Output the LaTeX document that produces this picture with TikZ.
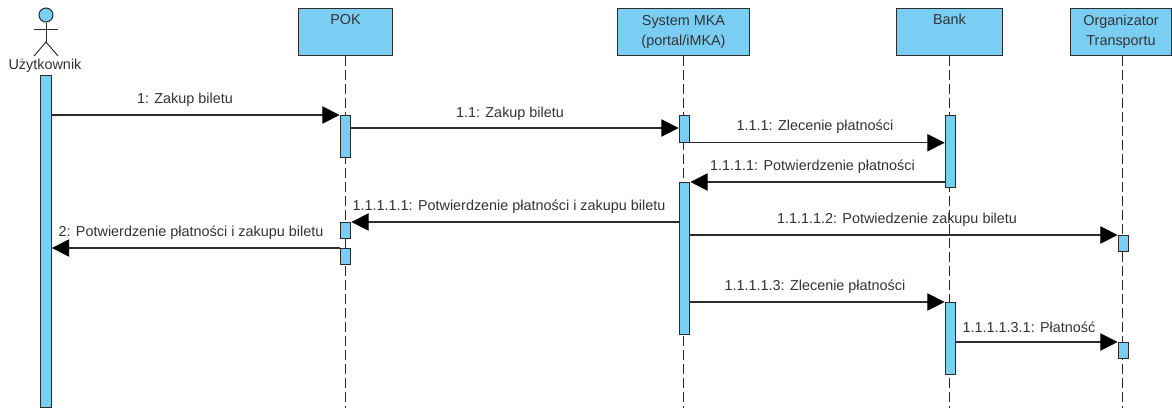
\documentclass[tikz,border=0pt]{standalone}
\usepackage{fontspec}
\setmainfont{Liberation Sans}
\usetikzlibrary{arrows.meta}
\definecolor{umlblue}{HTML}{7ACEF4}
\definecolor{umlline}{HTML}{2B2B2B}
\definecolor{umltext}{HTML}{333333}
\tikzset{
  umltxt/.style={font=\fontsize{10.8}{15}\selectfont,text=umltext,inner sep=0pt},
  lifebox/.style={draw=umlline,line width=0.8pt,fill=umlblue,anchor=north,inner sep=0pt,align=center,umltxt},
  activation/.style={draw=umlline,line width=0.8pt,fill=umlblue,minimum width=8pt,inner sep=0pt,anchor=north},
  lifeline/.style={draw=umlline,line width=0.75pt,dash pattern=on 7pt off 3.5pt},
  msg/.style={draw=umlline,line width=0.8pt,-{Triangle[length=13pt,width=13pt,color=black]}},
  msgtext/.style={umltxt},
  stick/.style={draw=umlline,line width=0.7pt}
}
\begin{document}
\begin{tikzpicture}[x=0.75pt,y=-0.75pt]
\useasboundingbox (0,0) rectangle (1172,412);
% actor
\node[circle,draw=umlline,line width=0.8pt,fill=umlblue,minimum size=10.5pt,inner sep=0pt] (head) at (46,15) {};
\coordinate (hip) at (46,42);
\coordinate (armL) at (34,29);
\coordinate (armR) at (58,29);
\coordinate (footL) at (34,56);
\coordinate (footR) at (58,56);
\draw[stick] (head.south) -- (hip);
\draw[stick] (armL) -- (armR);
\draw[stick] (footL) -- (hip) -- (footR);
\node[umltxt] (actor) at (45,66) {Użytkownik};
% heads
\node[lifebox,minimum width=70pt,minimum height=35.5pt] (pok) at (345.5,8) {POK\\\strut};
\node[lifebox,minimum width=99pt,minimum height=35.5pt] (mka) at (683.5,8) {System MKA\\(portal/iMKA)};
\node[lifebox,minimum width=79pt,minimum height=35.5pt] (bank) at (949.5,8) {Bank\\\strut};
\node[lifebox,minimum width=76pt,minimum height=35.5pt] (org) at (1121,8) {Organizator\\Transportu};
% lifeline ends
\coordinate (pokEnd) at (345,408);
\coordinate (mkaEnd) at (683.5,408);
\coordinate (bankEnd) at (949,408);
\coordinate (orgEnd) at (1122,408);
\draw[lifeline] (pok.south) -- (pok.south |- pokEnd);
\draw[lifeline] (mka.south) -- (mka.south |- mkaEnd);
\draw[lifeline] (bank.south) -- (bank.south |- bankEnd);
\draw[lifeline] (org.south -| orgEnd) -- (orgEnd);
% activations
\node[activation,minimum height=249pt] (aU) at (46,75) {};
\node[activation,minimum height=31.5pt] (aP1) at (345.5,115) {};
\node[activation,minimum height=12pt] (aP2) at (345.5,222) {};
\node[activation,minimum height=12pt] (aP3) at (345.5,248) {};
\node[activation,minimum height=20pt] (aM1) at (684.5,115) {};
\node[activation,minimum height=114pt] (aM2) at (684.5,182) {};
\node[activation,minimum height=54pt] (aB1) at (950.5,115) {};
\node[activation,minimum height=54pt] (aB2) at (950.5,302) {};
\node[activation,minimum height=12pt] (aO1) at (1123.5,235) {};
\node[activation,minimum height=12pt] (aO2) at (1123.5,342) {};
% messages
\draw[msg] (aU.east |- aP1.north) -- (aP1.north west);
\draw[msg] (aP1.east |- 0,128) -- (aM1.west |- 0,128);
\draw[msg] (aM1.south east) -- (aB1.west |- aM1.south);
\draw[msg] (aB1.west |- aM2.north) -- (aM2.north east);
\draw[msg] (aM2.west |- aP2.north) -- (aP2.north east);
\draw[msg] (aM2.east |- aO1.north) -- (aO1.north west);
\draw[msg] (aP3.north west) -- (aU.east |- aP3.north);
\draw[msg] (aM2.east |- aB2.north) -- (aB2.north west);
\draw[msg] (aB2.east |- aO2.north) -- (aO2.north west);
% message labels
\node[msgtext] (l1) at (185,100) {1: Zakup biletu};
\node[msgtext] (l2) at (510,114) {1.1: Zakup biletu};
\node[msgtext] (l3) at (815,126.5) {1.1.1: Zlecenie płatności};
\node[msgtext] (l4) at (812.5,166.5) {1.1.1.1: Potwierdzenie płatności};
\node[msgtext] (l5) at (509,207) {1.1.1.1.1: Potwierdzenie płatności i zakupu biletu};
\node[msgtext] (l6) at (897,220) {1.1.1.1.2: Potwiedzenie zakupu biletu};
\node[msgtext] (l7) at (191,233) {2: Potwierdzenie płatności i zakupu biletu};
\node[msgtext] (l8) at (815,286.5) {1.1.1.1.3: Zlecenie płatności};
\node[msgtext] (l9) at (1029,327) {1.1.1.1.3.1: Płatność};
\end{tikzpicture}
\end{document}
